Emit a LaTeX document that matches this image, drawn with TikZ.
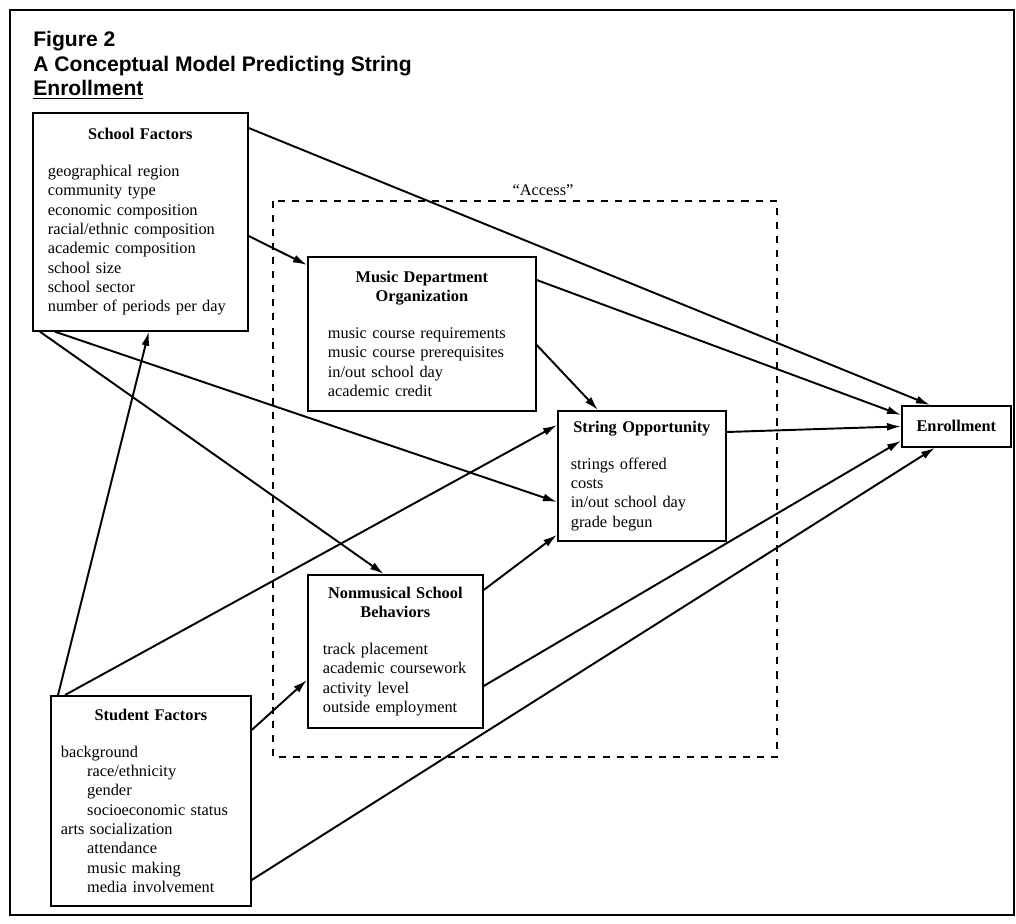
\documentclass[tikz,border=0pt]{standalone}
\usepackage{fontspec}
\setmainfont{Liberation Serif}
\newfontfamily\headfont{Liberation Sans}
\usetikzlibrary{arrows.meta}
\tikzset{
  box/.style  = {rectangle, draw, line width=1pt, anchor=north west,
                 align=left, inner ysep=0pt,
                 font=\fontsize{9.3}{11}\selectfont},
  arr/.style  = {-{Latex[length=2.8mm,width=1.6mm]}, line width=1.1pt},
  dashbox/.style = {draw, line width=0.9pt, dash pattern=on 4pt off 4pt}
}
\newcommand{\boxhead}[1]{{\centering\bfseries #1\par}\vspace{10pt}}
\newcommand{\ind}{\hspace*{15pt}}

\begin{document}
\begin{tikzpicture}[x=0.02cm,y=-0.02cm]
    \useasboundingbox (0,0) rectangle (1016,923);
    \draw[line width=0.8pt] (10,10) rectangle (1014,915);
    \node[anchor=north west, align=left, inner sep=0pt,
          font=\headfont\bfseries\fontsize{12}{13.9}\selectfont] (title) at (33,31)
         {Figure 2\\A Conceptual Model Predicting String\\\underline{Enrollment}};
    % the "access" frame
    \draw[dashbox] (273,201) rectangle (777,757);
    \node[font=\fontsize{9.3}{11}\selectfont] (access) at (543,190) {``Access''};
    \node[box, text width=3.7cm, inner xsep=0.3cm, minimum height=4.36cm] (school) at (32,112)
         {\boxhead{School Factors}
          geographical region\\ community type\\ economic composition\\
          racial/ethnic composition\\ academic composition\\ school size\\
          school sector\\ number of periods per day};
    \node[box, text width=3.6cm, inner xsep=0.2cm, minimum height=4.2cm] (student) at (50,695)
         {\boxhead{Student Factors}
          background\\ \ind race/ethnicity\\ \ind gender\\ \ind socioeconomic status\\
          arts socialization\\ \ind attendance\\ \ind music making\\ \ind media involvement};
    \node[box, text width=3.76cm, inner xsep=0.4cm, minimum height=3.08cm] (music) at (307,256)
         {\boxhead{Music Department\\Organization}
          music course requirements\\ music course prerequisites\\
          in/out school day\\ academic credit};
    \node[box, text width=2.84cm, inner xsep=0.26cm, minimum height=2.6cm] (string) at (557,410)
         {\boxhead{String Opportunity}
          strings offered\\ costs\\ in/out school day\\ grade begun};
    \node[box, text width=2.9cm, inner xsep=0.3cm, minimum height=3.06cm] (nonmus) at (307,574)
         {\boxhead{Nonmusical School\\Behaviors}
          track placement\\ academic coursework\\ activity level\\ outside employment};
    \node[box, align=center, text width=1.78cm, inner xsep=0.2cm, minimum height=0.82cm,
          font=\fontsize{9.3}{11}\selectfont\bfseries] (enrol) at (901,405) {Enrollment};
    % paths of the model
    \draw[arr] ([yshift=-0.32cm]school.north east) -- ([xshift=0.58cm]enrol.north west);
    \draw[arr] ([yshift=-2.48cm]school.north east) -- ([yshift=-0.18cm]music.north west);
    \draw[arr] ([xshift=0.16cm]school.south west) -- ([xshift=-0.23cm]nonmus.north);
    \draw[arr] ([xshift=0.46cm]school.south west) -- ([yshift=-1.84cm]string.north west);
    \draw[arr] ([xshift=0.16cm]student.north west) -- ([xshift=0.17cm]school.south);
    \draw[arr] ([xshift=0.3cm]student.north west) -- ([yshift=-0.3cm]string.north west);
    \draw[arr] ([yshift=-0.7cm]student.north east) -- ([yshift=-2.12cm]nonmus.north west);
    \draw[arr] ([yshift=-3.7cm]student.north east) -- ([xshift=0.68cm]enrol.south west);
    \draw[arr] ([yshift=-0.48cm]music.north east) -- ([yshift=-0.2cm]enrol.north west);
    \draw[arr] ([yshift=-1.78cm]music.north east) -- ([xshift=0.82cm]string.north west);
    \draw[arr] ([yshift=-0.44cm]string.north east) -- (enrol.west);
    \draw[arr] ([yshift=-0.32cm]nonmus.north east) -- ([yshift=0.14cm]string.south west);
    \draw[arr] ([yshift=-2.24cm]nonmus.north east) -- ([yshift=0.14cm]enrol.south west);
\end{tikzpicture}
\end{document}
